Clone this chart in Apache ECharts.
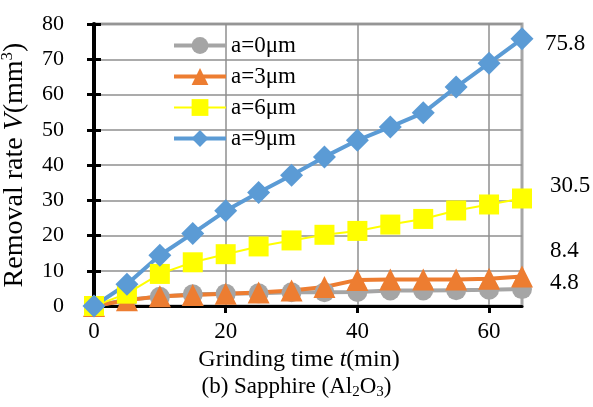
<!DOCTYPE html>
<html>
<head>
<meta charset="utf-8">
<script src="https://cdn.jsdelivr.net/npm/echarts@6/dist/echarts.min.js"></script>
<style>
	html, body { margin: 0; padding: 0; background: #fff; }
	#chart { width: 593px; height: 407px; }
</style>
</head>
<body>
<div id="chart"></div>
<script>
	// grinding time (min)
	var times = [0, 5, 10, 15, 20, 25, 30, 35, 40, 45, 50, 55, 60, 65];
	// removal volume (mm3) for each abrasive size
	var a0 = [0, 1.8, 2.6, 3.3, 3.5, 3.6, 3.9, 3.9, 4.0, 4.4, 4.4, 4.5, 4.6, 4.8];
	var a3 = [0, 1.6, 2.8, 3.1, 3.5, 3.8, 4.4, 5.4, 7.4, 7.5, 7.5, 7.5, 7.7, 8.4];
	var a6 = [0, 3.5, 9.1, 12.4, 14.7, 16.9, 18.6, 20.2, 21.3, 23.1, 24.7, 27.1, 28.8, 30.5];
	var a9 = [0, 6.2, 14.4, 20.6, 27.0, 32.2, 37.1, 42.3, 47.0, 50.8, 54.8, 62.1, 68.9, 75.8];
	var names = ['a=0μm', 'a=3μm', 'a=6μm', 'a=9μm'];
	var xTicks = [0, 20, 40, 60];

	var font = 'Liberation Serif';

	function pairs(vals){
		return times.map(function(t, i){ return [t, vals[i]]; });
	}

	function makeSeries(name, vals, color, symbol, size, width, off){
		return {
			name: name,
			type: 'line',
			data: pairs(vals),
			symbol: symbol,
			symbolSize: size,
			color: color,
			lineStyle: { color: color, width: width },
			itemStyle: { color: color },
			endLabel: {
				show: true,
				distance: off[0],
				offset: [0, off[1]],
				color: '#000',
				fontFamily: font,
				fontSize: 23,
				formatter: '{v|' + vals[vals.length - 1].toFixed(1) + '}',
				rich: { v: { fontFamily: font, fontSize: 23, color: '#000' } }
			}
		};
	}

	var myChart = echarts.init(document.getElementById('chart'));
	myChart.setOption({
		animation: false,
		textStyle: { fontFamily: font, color: '#000' },
		title: {
			text: '{n|(b) Sapphire (Al}{sub|2}{n|O}{sub|3}{n|)}',
			left: 'center',
			bottom: 2,
			textStyle: {
				fontFamily: font, fontSize: 23, fontWeight: 'normal', color: '#000', lineHeight: 26,
				rich: {
					n: { fontFamily: font, fontSize: 23, color: '#000', lineHeight: 26 },
					sub: { fontFamily: font, fontSize: 15, color: '#000', verticalAlign: 'bottom', lineHeight: 26 }
				}
			}
		},
		legend: {
			orient: 'vertical',
			left: 167,
			top: 29,
			itemWidth: 52,
			itemHeight: 21,
			itemGap: 8,
			data: [
				{ name: names[0], lineStyle: { width: 4 } },
				{ name: names[1], lineStyle: { width: 4 } },
				{ name: names[2], lineStyle: { width: 2 } },
				{ name: names[3], lineStyle: { width: 4 } }
			],
			textStyle: { fontFamily: font, fontSize: 23, color: '#000' }
		},
		grid: {
			left: 94, right: 71, top: 24, bottom: 101,
			containLabel: false,
			outerBoundsMode: 'none',
			show: true,
			borderColor: '#a6a6a6',
			borderWidth: 3
		},
		xAxis: [
			{
				type: 'value',
				min: 0, max: 65, interval: 20,
				name: 'Grinding time {i|t}(min)',
				nameLocation: 'middle',
				nameGap: 38,
				nameTextStyle: {
					fontFamily: font, fontSize: 24, color: '#000', padding: [0, 18, 0, 0],
					rich: { i: { fontFamily: font, fontSize: 24, fontStyle: 'italic', color: '#000' } }
				},
				axisLine: { show: true, lineStyle: { color: '#000', width: 3 } },
				axisTick: { show: true, length: 7, customValues: xTicks, lineStyle: { color: '#000', width: 3 } },
				axisLabel: {
					customValues: xTicks, margin: 14, color: '#000',
					formatter: '{t|{value}}',
					rich: { t: { fontFamily: font, fontSize: 23, color: '#000' } }
				},
				splitLine: { show: true, lineStyle: { color: '#8f8f8f', width: 1.5 } }
			},
			{
				type: 'value',
				min: 0, max: 65, interval: 20,
				axisLine: { show: false },
				axisTick: { show: true, inside: true, length: 7, customValues: xTicks, lineStyle: { color: '#000', width: 3 } },
				axisLabel: { show: false },
				splitLine: { show: false }
			}
		],
		yAxis: [
			{
				type: 'value',
				min: 0, max: 80, interval: 10,
				name: 'Removal rate {i|V}(mm{sup|3})',
				nameLocation: 'middle',
				nameGap: 52,
				nameTextStyle: {
					fontFamily: font, fontSize: 28, color: '#000', lineHeight: 32,
					rich: {
						i: { fontFamily: font, fontSize: 28, fontStyle: 'italic', color: '#000', lineHeight: 32 },
						sup: { fontFamily: font, fontSize: 17, color: '#000', verticalAlign: 'top', lineHeight: 32 }
					}
				},
				axisLine: { show: true, lineStyle: { color: '#000', width: 4 } },
				axisTick: { show: true, length: 7, lineStyle: { color: '#000', width: 3 } },
				axisLabel: {
					margin: 30, color: '#000',
					formatter: '{t|{value}}',
					rich: { t: { fontFamily: font, fontSize: 22, color: '#000' } }
				},
				splitLine: { show: true, lineStyle: { color: '#8f8f8f', width: 1.5 } }
			},
			{
				type: 'value',
				min: 0, max: 80, interval: 10,
				position: 'left',
				axisLine: { show: false },
				axisTick: { show: true, inside: true, length: 7, lineStyle: { color: '#000', width: 3 } },
				axisLabel: { show: false },
				splitLine: { show: false }
			}
		],
		series: [
			makeSeries(names[0], a0, '#a5a5a5', 'circle', 20, 4, [28, -6]),
			makeSeries(names[1], a3, '#ed7d31', 'triangle', 22, 4, [28, -25]),
			makeSeries(names[2], a6, '#ffff00', 'rect', 20, 2, [28, -13]),
			makeSeries(names[3], a9, '#5b9bd5', 'diamond', 23, 4, [23, 5])
		]
	});
</script>
</body>
</html>
